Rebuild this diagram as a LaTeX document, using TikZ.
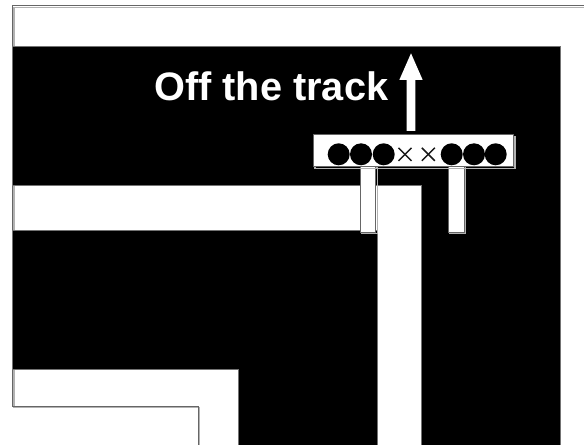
\documentclass[tikz,border=0pt]{standalone}
\usepackage{fontspec}
\setmainfont{Liberation Sans}
\begin{document}
\begin{tikzpicture}[x=0.75pt,y=-0.75pt,
  edge/.style={draw=black!60,line width=0.75pt},
  shade/.style={draw=black!30,line width=1pt},
  blackpart/.style={fill=black,draw=black!55,line width=0.6pt},
  whitepart/.style={fill=white,draw=black!60,line width=0.75pt},
  dot/.style={circle,fill=black,minimum size=16.5pt,inner sep=0pt},
  crossline/.style={line width=1.1pt,black!90}]
\useasboundingbox (0,0) rectangle (584,445);
\fill[white] (0,0) rectangle (584,445);
% outer frame
\draw[shade] (584,7.5) -- (14,7.5) -- (14,407.5) -- (199.8,407.5) -- (199.8,445);
\draw[edge] (584,6) -- (12.7,6) -- (12.7,406) -- (198.3,406) -- (198.3,445);
% black track surface
\draw[blackpart] (12.7,46.7) -- (560,46.7) -- (560,445) -- (421,445) -- (421,185) -- (12.7,185) -- cycle;
\draw[blackpart] (12.7,230) -- (377,230) -- (377,445) -- (238.3,445) -- (238.3,369) -- (12.7,369) -- cycle;
% label
\node[anchor=base west,inner sep=0pt,text=white,font=\fontsize{29.8}{30}\selectfont\bfseries] (lbl) at (154,100.5) {Off the track};
% arrow
\fill[white] (406.7,131) -- (406.7,80) -- (399.3,80) -- (411,53.3) -- (422.7,80) -- (415.3,80) -- (415.3,131) -- cycle;
% sensor legs
\draw[shade] (361.5,168) rectangle (377.2,233.8);
\draw[whitepart] (360,166.5) rectangle (375.7,232.3);
\draw[shade] (449.8,168) rectangle (465.8,233.8);
\draw[whitepart] (448.3,166.5) rectangle (464.3,232.3);
% sensor bar
\draw[shade] (315,137) rectangle (515,168.5);
\draw[whitepart] (313.3,135) rectangle (513.3,166.5);
\node[dot] (s1) at (338.7,154.3) {};
\node[dot] (s2) at (361,154.3) {};
\node[dot] (s3) at (383.7,154.3) {};
\node[dot] (s6) at (451.7,154.3) {};
\node[dot] (s7) at (474,154.3) {};
\node[dot] (s8) at (495.7,154.3) {};
\foreach \cx in {405,428.3}{
  \draw[crossline] (\cx-6.5,147.8) -- (\cx+6.5,160.8);
  \draw[crossline] (\cx-6.5,160.8) -- (\cx+6.5,147.8);
}
\end{tikzpicture}
\end{document}
